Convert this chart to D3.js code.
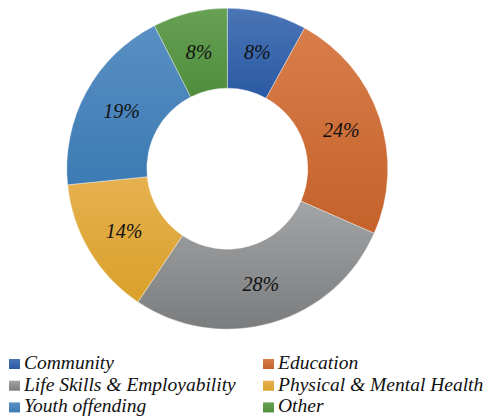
<!DOCTYPE html>
<html>
<head>
<meta charset="utf-8">
<script src="https://cdn.jsdelivr.net/npm/d3@7"></script>
</head>
<body style="margin:0">
<script>
// data
var categories = ["Community", "Education", "Life Skills & Employability", "Physical & Mental Health", "Youth offending", "Other"];
var values = [8.0, 23.6, 27.8, 14.0, 19.1, 7.5];
var labels = ["8%", "24%", "28%", "14%", "19%", "8%"];
var topColors = ["#4a75b6", "#d87d4a", "#a3a4a5", "#e6b150", "#5a8fc2", "#67a154"];
var bottomColors = ["#2a5aa4", "#c4622a", "#7a7c7e", "#d9a02a", "#3c7bb4", "#4f8d3c"];

var svgWidth = 483, svgHeight = 419;
var cx = 227.3, cy = 168.7;
var outerR = 160.5, innerR = 80.5;
var fontFamily = "'Times New Roman', monospace";

var svg = d3.select("body").append("svg")
  .attr("width", svgWidth)
  .attr("height", svgHeight);

// gradients, one per slice
var defs = svg.append("defs");
categories.forEach(function (c, i) {
  var g = defs.append("linearGradient")
    .attr("id", "grad" + i)
    .attr("x1", 0).attr("y1", 0).attr("x2", 0).attr("y2", 1);
  g.append("stop").attr("offset", "0%").attr("stop-color", topColors[i]);
  g.append("stop").attr("offset", "100%").attr("stop-color", bottomColors[i]);
});

var pie = d3.pie().sort(null).value(d => d);
var arcs = pie(values);

var arc = d3.arc().innerRadius(innerR).outerRadius(outerR);

var chartGroup = svg.append("g")
  .attr("transform", `translate(${cx}, ${cy})`);

chartGroup.selectAll("path")
  .data(arcs)
  .enter()
  .append("path")
  .attr("d", arc)
  .attr("fill", (d, i) => `url(#grad${i})`)
  .attr("stroke", "#ffffff")
  .attr("stroke-opacity", 0.6)
  .attr("stroke-width", 0.6);

// slice labels
chartGroup.selectAll(".sliceLabel")
  .data(arcs)
  .enter()
  .append("text")
  .attr("class", "sliceLabel")
  .attr("x", d => arc.centroid(d)[0])
  .attr("y", d => arc.centroid(d)[1] + 7)
  .attr("text-anchor", "middle")
  .attr("font-family", fontFamily)
  .attr("font-style", "italic")
  .attr("font-size", 20)
  .attr("fill", "#111")
  .text((d, i) => labels[i]);

// legend, two columns
var legend = svg.append("g");
var items = legend.selectAll("g")
  .data(categories)
  .enter()
  .append("g")
  .attr("transform", (d, i) => `translate(${i % 2 === 0 ? 9 : 263}, ${363 + Math.floor(i / 2) * 21.7})`);

items.append("rect")
  .attr("x", 0)
  .attr("y", -4)
  .attr("width", 11)
  .attr("height", 10)
  .attr("fill", (d, i) => `url(#grad${i})`);

items.append("text")
  .attr("x", 15)
  .attr("y", 6)
  .attr("font-family", fontFamily)
  .attr("font-style", "italic")
  .attr("font-size", 19.5)
  .attr("fill", "#111")
  .text(d => d);
</script>
</body>
</html>
